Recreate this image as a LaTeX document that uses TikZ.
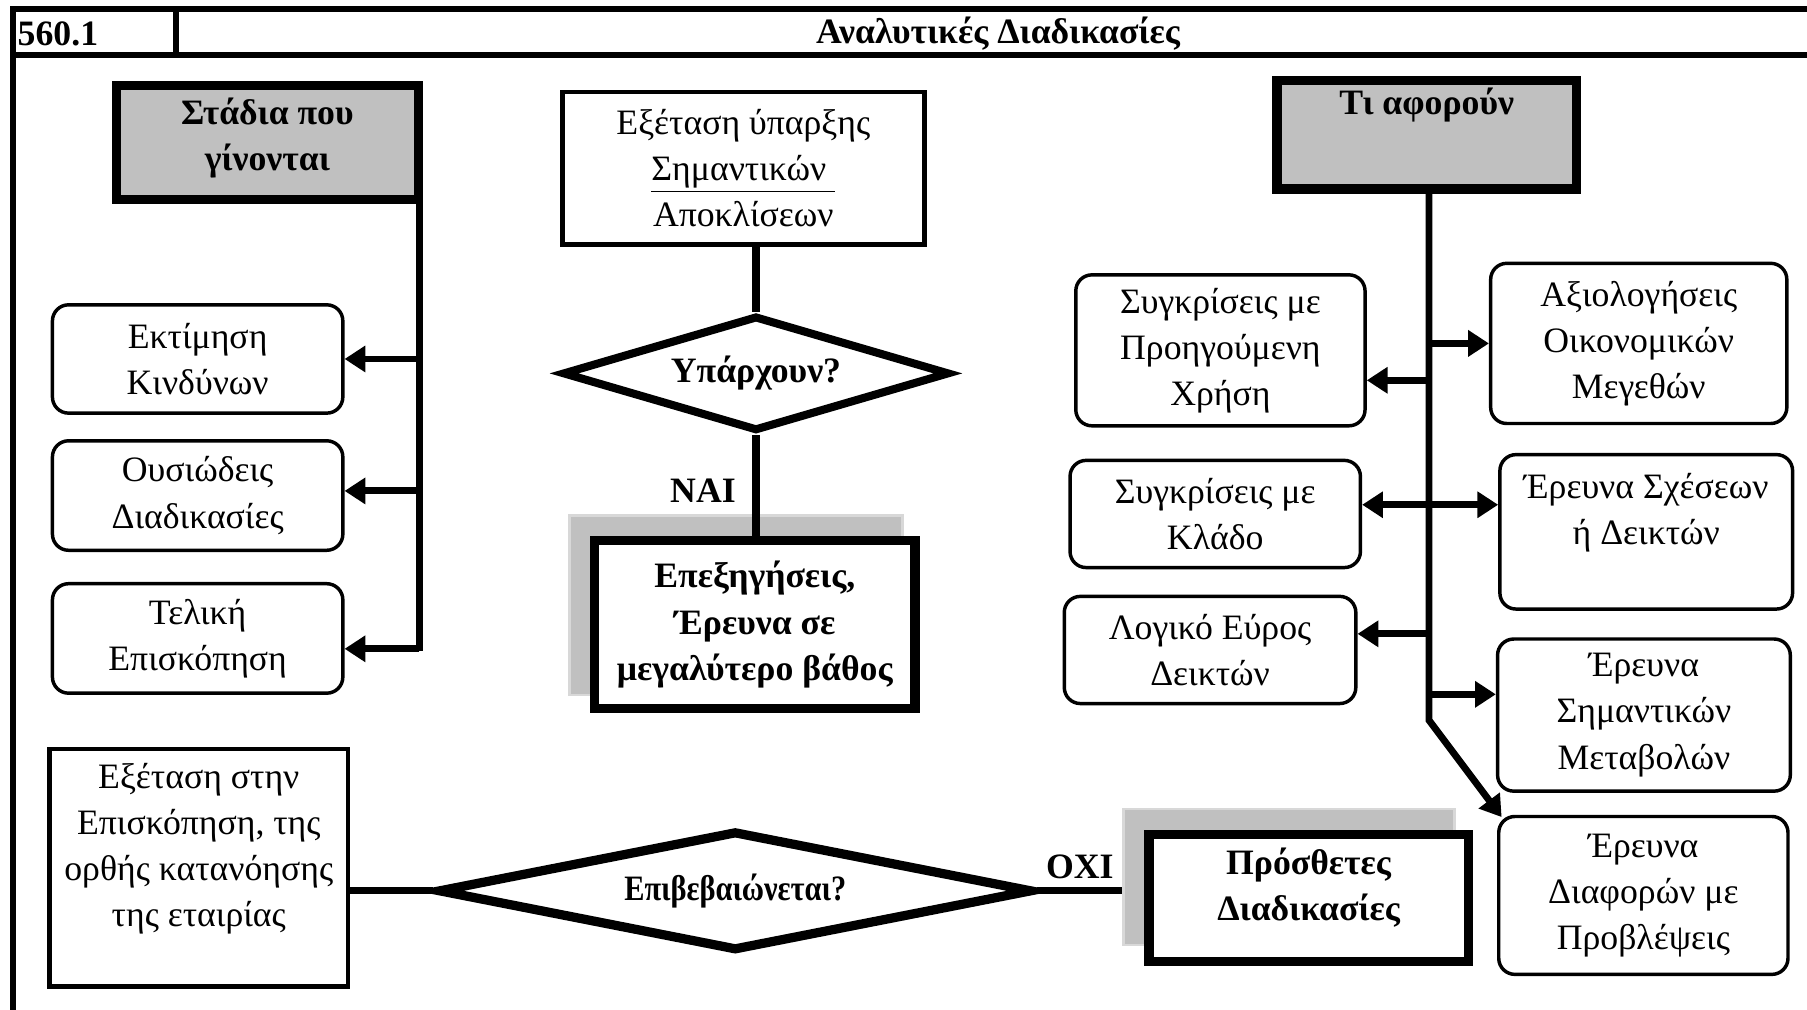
\documentclass[tikz,border=0pt]{standalone}
\usepackage{fontspec}
\setmainfont{Liberation Serif}
\newfontfamily\condfont{Liberation Serif}[FakeStretch=0.85]
\usetikzlibrary{shapes.geometric,arrows.meta}
\newcommand\fs{\fontsize{15.5}{20}\selectfont}
\newcommand\zw[1]{\makebox[0pt]{#1}}
\definecolor{boxgray}{HTML}{C0C0C0}
\definecolor{shadline}{HTML}{D8D8D8}
\tikzset{
  rbox/.style={draw, rounded corners=7pt, line width=1.5pt, align=center, inner sep=0pt, font=\fs},
  sbox/.style={draw, line width=2pt, align=center, inner sep=0pt, font=\fs},
  bbox/.style={draw, fill=white, line width=4pt, align=center, inner sep=0pt, font=\fs\bfseries},
  gbox/.style={draw, fill=boxgray, line width=4pt, align=center, inner sep=0pt, font=\fs\bfseries},
  shad/.style={draw=shadline, fill=boxgray, line width=1.2pt, inner sep=0pt},
  dia/.style={diamond, draw, line width=3.5pt, inner sep=0pt, font=\fs\bfseries},
  conn/.style={line width=3pt},
  arr/.style={line width=3pt, -{Triangle[length=9pt,width=11pt]}},
  darr/.style={line width=3pt, {Triangle[length=9pt,width=11pt]}-{Triangle[length=9pt,width=11pt]}},
  frame/.style={line width=2.6pt, line join=miter},
  lbl/.style={font=\fs\bfseries, inner sep=0pt}
}
\begin{document}
\begin{tikzpicture}[x=0.5pt,y=-0.5pt]
\useasboundingbox (0,0) rectangle (1568,876);
\clip (0,0) rectangle (1568,876);
\fill[white] (0,0) rectangle (1568,876);

% frame
\draw[frame] (11,1000) -- (11,8) -- (1600,8);
\draw[frame] (11,48) -- (1600,48);
\draw[frame] (153,8) -- (153,48);
\node[lbl, anchor=west] (num) at (15,29) {560.1};
\node[lbl] (title) at (866,29) {Αναλυτικές Διαδικασίες};

% left column
\node[gbox, minimum width=131pt, minimum height=49.5pt] (stadia) at (232,123.5) {Στάδια που\\γίνονται\\[-13pt]\mbox{}};
\node[rbox, minimum width=126pt, minimum height=47pt] (ek) at (171.5,311.5) {Εκτίμηση\\Κινδύνων};
\node[rbox, minimum width=126pt, minimum height=47.5pt] (ous) at (171.5,430) {Ουσιώδεις\\Διαδικασίες};
\node[rbox, minimum width=126pt, minimum height=47.5pt] (tel) at (171.5,554) {Τελική\\Επισκόπηση};
\coordinate (lbot) at (364,565);
\draw[conn] (stadia.south -| lbot) -- (lbot);
\draw[arr] (ek.east -| lbot) -- (ek.east);
\draw[arr] ([yshift=2pt]ous.east -| lbot) -- ([yshift=2pt]ous.east);
\draw[arr] ([yshift=-4.5pt]tel.east -| lbot) -- ([yshift=-4.5pt]tel.east);

% middle column
\node[sbox, minimum width=157pt, minimum height=66pt] (exam) at (645,146) {Εξέταση ύπαρξης\\\underline{Σημαντικών\ }\\Αποκλίσεων};
\node[dia, minimum width=168pt, minimum height=50pt] (yp) at (656,324) {\zw{Υπάρχουν?}};
\node[shad, minimum width=144.5pt, minimum height=78pt] (explsh) at (638.5,525) {};
\node[bbox, minimum width=139pt, minimum height=73pt] (expl) at (655,542) {Επεξηγήσεις,\\Έρευνα σε\\μεγαλύτερο βάθος};
\draw[line width=3.5pt] (yp.north |- exam.south) -- (yp.north);
\draw[line width=3.5pt] (yp.south) -- (yp.south |- expl.north);
\node[lbl] (nai) at (610,426) {ΝΑΙ};

% right column
\node[gbox, minimum width=130pt, minimum height=47pt] (tia) at (1238,117) {};
\node[lbl] (tiat) at (1238,91) {Τι αφορούν};
\node[rbox, minimum width=125.5pt, minimum height=65.5pt] (sp) at (1059,304) {Συγκρίσεις με\\Προηγούμενη\\Χρήση};
\node[rbox, minimum width=126pt, minimum height=46.5pt] (sk) at (1054.5,446) {Συγκρίσεις με\\Κλάδο};
\node[rbox, minimum width=126.5pt, minimum height=46.5pt] (le) at (1050,564) {Λογικό Εύρος\\Δεικτών};
\node[rbox, minimum width=128.5pt, minimum height=69.5pt] (ax) at (1422,298) {Αξιολογήσεις\\Οικονομικών\\Μεγεθών};
\node[rbox, minimum width=127pt, minimum height=67pt] (es) at (1428.5,461.5) {Έρευνα Σχέσεων\\ή Δεικτών\\\mbox{}};
\node[rbox, minimum width=127pt, minimum height=66pt] (em) at (1426.5,620.5) {Έρευνα\\Σημαντικών\\Μεταβολών};
\node[rbox, minimum width=125.5pt, minimum height=68.5pt] (ed) at (1426,777) {Έρευνα\\Διαφορών με\\Προβλέψεις};
\coordinate (rbend) at (1240,625);
\draw[arr, line join=miter] (tia.south -| rbend) -- (rbend) -- ([xshift=2pt,yshift=-1pt]ed.north west);
\draw[arr] ([yshift=-13pt]sp.east -| rbend) -- ([yshift=-13pt]sp.east);
\draw[arr] (ax.west -| rbend) -- (ax.west);
\draw[darr] ([yshift=4pt]sk.east) -- ([yshift=4pt]sk.east -| es.west);
\draw[arr] ([yshift=7pt]le.east -| rbend) -- ([yshift=7pt]le.east);
\draw[arr] ([yshift=9pt]em.west -| rbend) -- ([yshift=9pt]em.west);

% bottom row
\node[sbox, minimum width=129.5pt, minimum height=103pt] (exs) at (172.5,753) {Εξέταση στην\\Επισκόπηση, της\\ορθής κατανόησης\\της εταιρίας\\\mbox{}};
\node[dia, line width=4pt, minimum width=258pt, minimum height=52pt, font=\condfont\fs\bfseries] (ep) at (638,773) {\zw{Επιβεβαιώνεται?}};
\node[shad, minimum width=143.5pt, minimum height=59pt] (pssh) at (1118.5,761) {};
\node[bbox, minimum width=138.5pt, minimum height=55pt] (ps) at (1135.5,779) {Πρόσθετες\\Διαδικασίες\\[-8pt]\mbox{}};
\draw[conn] (ep.west -| exs.east) -- (ep.west);
\draw[conn] (ep.east) -- (ep.east -| pssh.west);
\node[lbl] (oxi) at (937,752) {ΟΧΙ};
\end{tikzpicture}
\end{document}
